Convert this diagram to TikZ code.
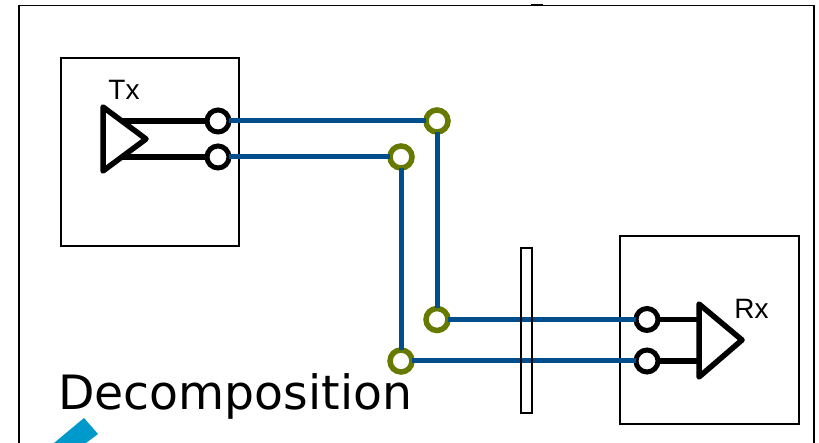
\documentclass[tikz,border=0pt]{standalone}
\usepackage{fontspec}
\setmainfont{Liberation Sans}
\newfontfamily\titlefont{DejaVu Sans}
\definecolor{wireblue}{HTML}{004F8C}
\definecolor{ringgreen}{HTML}{667A00}
\definecolor{accentblue}{HTML}{0099CC}
\tikzset{
  boxline/.style={draw=black,line width=1.2pt},
  pad/.style={circle,draw=black,fill=white,line width=5pt,minimum size=22pt,inner sep=0pt,outer sep=0pt},
  ring/.style={circle,draw=ringgreen,fill=white,line width=5.5pt,minimum size=22pt,inner sep=0pt,outer sep=0pt},
  bluewire/.style={draw=wireblue,line width=5pt},
  blackwire/.style={draw=black,line width=5.5pt},
  amp/.style={draw=black,line width=5.5pt,line join=round,line cap=round},
  lbl/.style={font=\fontsize{28}{28}\selectfont,inner sep=0pt,anchor=center}
}
\begin{document}
\begin{tikzpicture}[x=1pt,y=-1pt]
\useasboundingbox (0,0) rectangle (819,443);
\fill[white] (0,0) rectangle (819,443);
% outer frame, running off the bottom
\draw[boxline] (19,460) -- (19,5.5) -- (814,5.5) -- (814,460);
\draw[black,line width=2pt] (531,5.5) -- (543,5.5);
% blocks
\draw[boxline] (61,58) rectangle (239,246);
\draw[boxline] (620,236) rectangle (799,424);
% terminals
\coordinate (txa) at (122,121);
\coordinate (txb) at (122,157);
\coordinate (rxa) at (699,319.5);
\coordinate (rxb) at (699,361);
\node[pad] (t1) at (218,121) {};
\node[pad] (t2) at (218,157) {};
\node[pad] (r1) at (647,319.5) {};
\node[pad] (r2) at (647,361) {};
\node[ring] (g1) at (437,121) {};
\node[ring] (g2) at (401,157) {};
\node[ring] (g3) at (437,319.5) {};
\node[ring] (g4) at (401,361) {};
% connectors
\draw[bluewire] (t1) -- (g1);
\draw[bluewire] (t2) -- (g2);
\draw[bluewire] (g1) -- (g3);
\draw[bluewire] (g2) -- (g4);
\draw[bluewire] (g3) -- (r1);
\draw[bluewire] (g4) -- (r2);
\draw[blackwire] (t1) -- (txa);
\draw[blackwire] (t2) -- (txb);
\draw[blackwire] (r1) -- (rxa);
\draw[blackwire] (r2) -- (rxb);
% amplifiers
\draw[amp] (103,107) -- (146,139) -- (103,171) -- cycle;
\draw[amp] (699,304) -- (742,340) -- (699,377) -- cycle;
% connector bar
\draw[boxline] (521,248) rectangle (532,413);
% labels
\node[lbl] (txl) at (124,90) {Tx};
\node[lbl] (rxl) at (751.5,309) {Rx};
\node[font=\titlefont\fontsize{47.3}{47.3}\selectfont,inner sep=0pt,anchor=base west] (title) at (58,409) {Decomposition};
% accent shape cut by the page edge
\fill[accentblue] (54,443) -- (84,418) -- (98,434) -- (86,443) -- cycle;
\end{tikzpicture}
\end{document}
